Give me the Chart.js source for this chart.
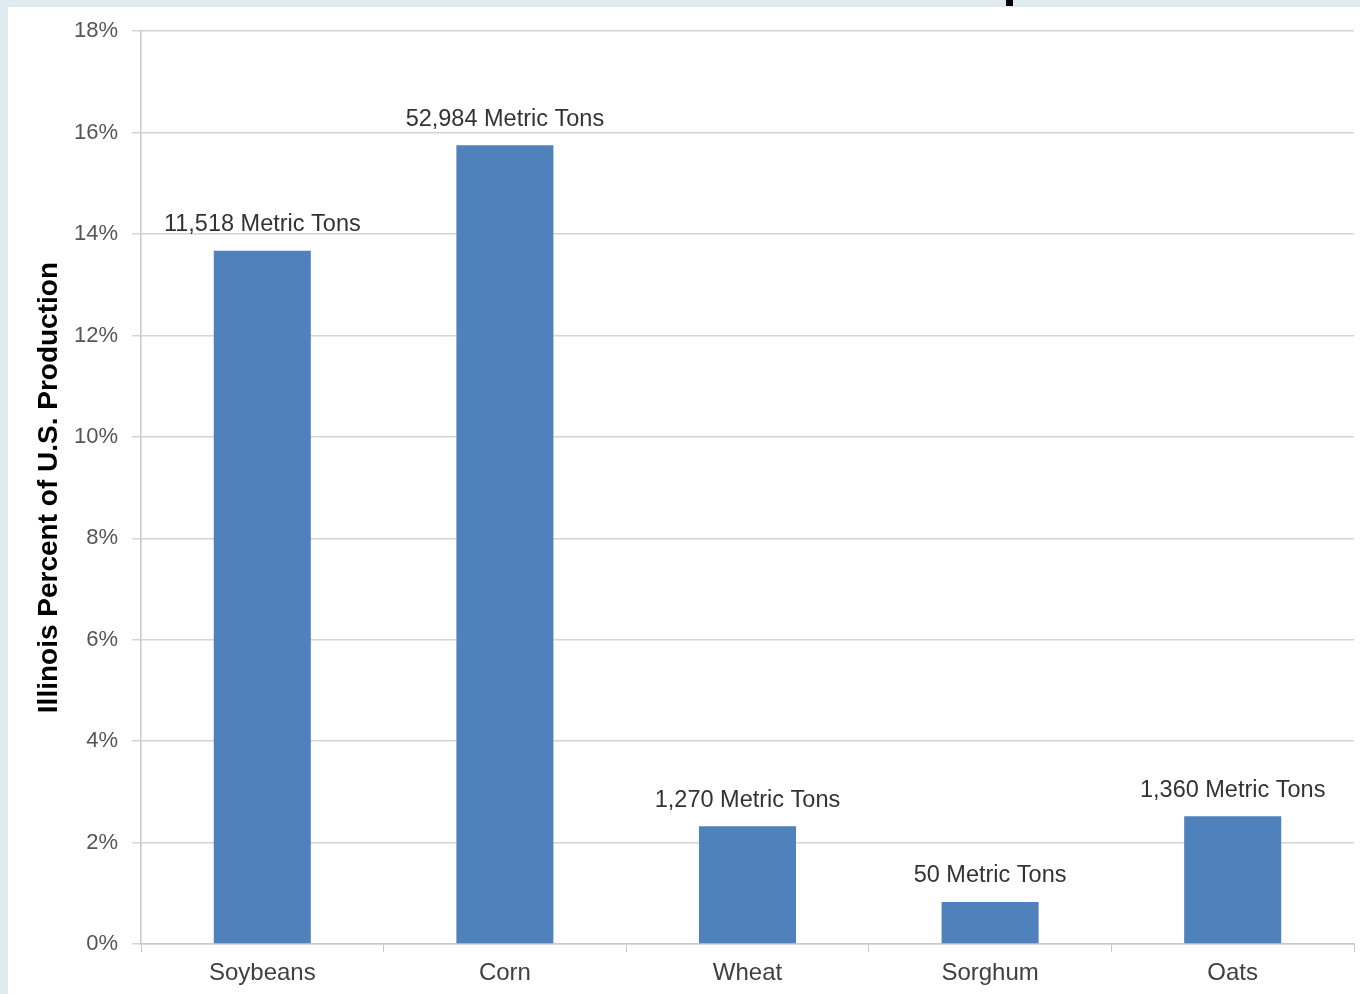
<!DOCTYPE html>
<html>
<head>
<meta charset="utf-8">
<script src="https://cdn.jsdelivr.net/npm/chart.js@4"></script>
<style>
  html, body { margin: 0; padding: 0; }
  body { width: 1360px; height: 994px; background: #dfe9f0; position: relative; overflow: hidden; }
  #wrap { position: absolute; left: 8px; top: 7px; width: 1352px; height: 987px; background: #fff; }
  #inner { position: absolute; left: 0; top: -3px; width: 1352px; height: 990px; }
  #mark { position: absolute; left: 1006px; top: 0; width: 7px; height: 6px; background: #000; }
</style>
</head>
<body>
<div id="mark"></div>
<div id="wrap"><div id="inner"><canvas id="chart"></canvas></div></div>
<script>
// crops and their share of U.S. production (%)
var crops = ['Soybeans', 'Corn', 'Wheat', 'Sorghum', 'Oats'];
var pctUS = [13.67, 15.75, 2.32, 0.83, 2.52];
var tonLabels = ['11,518 Metric Tons', '52,984 Metric Tons', '1,270 Metric Tons', '50 Metric Tons', '1,360 Metric Tons'];

// labels above the bars
var barLabels = {
  id: 'barLabels',
  afterDatasetsDraw: function (chart) {
    var ctx = chart.ctx;
    var meta = chart.getDatasetMeta(0);
    ctx.save();
    ctx.font = '23.5px Arial, "Liberation Sans", sans-serif';
    ctx.fillStyle = '#333333';
    ctx.textAlign = 'center';
    ctx.textBaseline = 'middle';
    meta.data.forEach(function (bar, i) {
      ctx.fillText(tonLabels[i], bar.x, bar.y - 26);
    });
    ctx.restore();
  }
};

var ctx = document.getElementById('chart');
new Chart(ctx, {
  type: 'bar',
  data: {
    labels: crops,
    datasets: [{
      label: 'Illinois Percent of U.S. Production',
      data: pctUS,
      backgroundColor: '#4f81bd',
      borderWidth: 0,
      barPercentage: 0.4,
      categoryPercentage: 1
    }]
  },
  options: {
    responsive: true,
    maintainAspectRatio: false,
    animation: false,
    layout: { padding: { left: 0, top: 20, right: 6, bottom: 0 } },
    plugins: {
      legend: { display: false },
      tooltip: { enabled: false }
    },
    scales: {
      x: {
        grid: { drawOnChartArea: false, drawTicks: true, tickLength: 8, color: '#c8c8c8', offset: true },
        border: { color: '#c8c8c8', width: 1.5 },
        ticks: { color: '#404040', padding: 7, font: { size: 24, family: 'Arial, "Liberation Sans", sans-serif' } },
        afterFit: function (scale) { scale.height = 50; }
      },
      y: {
        min: 0,
        max: 18,
        ticks: {
          stepSize: 2,
          color: '#555555',
          padding: 14,
          font: { size: 22, family: 'Arial, "Liberation Sans", sans-serif' },
          callback: function (v) { return v + '%'; }
        },
        grid: { color: '#d4d4d4', lineWidth: 1.5, tickLength: 9 },
        border: { color: '#c8c8c8', width: 1.5 },
        title: {
          display: true,
          text: 'Illinois Percent of U.S. Production',
          color: '#000',
          padding: { top: 24, bottom: 0 },
          font: { size: 28, weight: 'bold', family: 'Arial, "Liberation Sans", sans-serif' }
        },
        afterFit: function (scale) { scale.width = 133; }
      }
    }
  },
  plugins: [barLabels]
});
</script>
</body>
</html>
